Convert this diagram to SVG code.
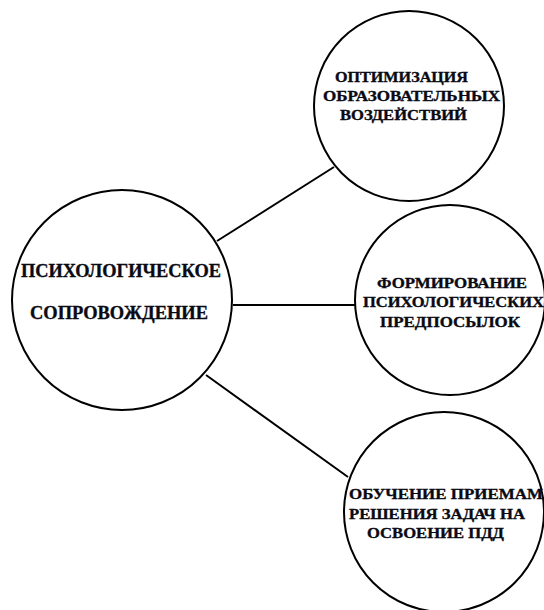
<svg xmlns="http://www.w3.org/2000/svg" width="544" height="610" viewBox="0 0 544 610">
<style>
.c{fill:#fff;stroke:#000;stroke-width:2}
.l{stroke:#000;stroke-width:2}
text{font-family:'Liberation Serif','DejaVu Serif',serif;font-weight:700;fill:#0a0a14;stroke:#0a0a14;stroke-width:0.35}
.big{font-size:18.5px}
.sm{font-size:15.5px}
</style>
<rect width="544" height="610" fill="#fff"/>
<g id="connectors">
<line class="l" x1="217" y1="241" x2="334" y2="167"/>
<line class="l" x1="233" y1="305" x2="357" y2="305"/>
<line class="l" x1="206" y1="375" x2="348" y2="477"/>
</g>
<g id="center">
<circle class="c" cx="122" cy="300" r="110"/>
<text class="big" x="21" y="277" textLength="200" lengthAdjust="spacingAndGlyphs">ПСИХОЛОГИЧЕСКОЕ</text>
<text class="big" x="30" y="319" textLength="178" lengthAdjust="spacingAndGlyphs">СОПРОВОЖДЕНИЕ</text>
</g>
<g id="top">
<circle class="c" cx="409" cy="106" r="95"/>
<text class="sm" x="335" y="82" textLength="133" lengthAdjust="spacingAndGlyphs">ОПТИМИЗАЦИЯ</text>
<text class="sm" x="323" y="101" textLength="177" lengthAdjust="spacingAndGlyphs">ОБРАЗОВАТЕЛЬНЫХ</text>
<text class="sm" x="340" y="120" textLength="127" lengthAdjust="spacingAndGlyphs">ВОЗДЕЙСТВИЙ</text>
</g>
<g id="middle">
<circle class="c" cx="450" cy="300" r="95"/>
<text class="sm" x="377" y="288" textLength="150" lengthAdjust="spacingAndGlyphs">ФОРМИРОВАНИЕ</text>
<text class="sm" x="363" y="307" textLength="181" lengthAdjust="spacingAndGlyphs">ПСИХОЛОГИЧЕСКИХ</text>
<text class="sm" x="380" y="327" textLength="140" lengthAdjust="spacingAndGlyphs">ПРЕДПОСЫЛОК</text>
</g>
<g id="bottom">
<circle class="c" cx="444" cy="512" r="100"/>
<text class="sm" x="349" y="499" textLength="194" lengthAdjust="spacingAndGlyphs">ОБУЧЕНИЕ ПРИЕМАМ</text>
<text class="sm" x="349" y="519" textLength="176" lengthAdjust="spacingAndGlyphs">РЕШЕНИЯ ЗАДАЧ НА</text>
<text class="sm" x="367" y="538" textLength="137" lengthAdjust="spacingAndGlyphs">ОСВОЕНИЕ ПДД</text>
</g>
</svg>
